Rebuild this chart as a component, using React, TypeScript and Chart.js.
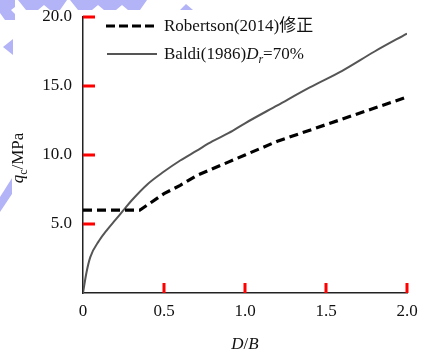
import React, { useEffect, useRef } from "react";
import { Chart, registerables } from "chart.js";

// Data
const baldiX = [0, 0.02, 0.045, 0.1, 0.15, 0.2, 0.25, 0.3, 0.4, 0.5, 0.6, 0.7, 0.8, 0.9, 1.0, 1.2, 1.4, 1.6, 1.8, 2.0];
const baldiY = [0, 1.4, 2.6, 3.8, 4.6, 5.3, 6.0, 6.7, 7.9, 8.8, 9.6, 10.3, 11.0, 11.6, 12.3, 13.6, 14.9, 16.1, 17.5, 18.8];
const robX = [0, 0.35, 0.4, 0.5, 0.6, 0.7, 0.8, 0.9, 1.0, 1.2, 1.4, 1.6, 1.8, 2.0];
const robY = [6.0, 6.0, 6.4, 7.2, 7.8, 8.5, 9.0, 9.5, 10.0, 11.0, 11.8, 12.6, 13.4, 14.2];
const xTicks = [0.5, 1.0, 1.5, 2.0];
const yTicks = [5, 10, 15, 20];
const robLabel = "Robertson(2014)修正";
const baldiLabel = "Baldi(1986)";

const SERIF = '"Liberation Serif", "Times New Roman", "Noto Sans CJK SC", serif';

const innerTicks = {
  id: "innerTicks",
  afterDraw(chart: any) {
    const ctx = chart.ctx;
    const area = chart.chartArea;
    const sx = chart.scales["x"];
    const sy = chart.scales["y"];
    ctx.save();
    ctx.strokeStyle = "#ff0000";
    ctx.lineWidth = 3;
    ctx.setLineDash([]);
    ctx.beginPath();
    yTicks.forEach((v) => {
      const py = Math.round(sy.getPixelForValue(v));
      ctx.moveTo(area.left, py);
      ctx.lineTo(area.left + 12, py);
    });
    xTicks.forEach((v) => {
      const px = Math.round(sx.getPixelForValue(v));
      ctx.moveTo(px, area.bottom);
      ctx.lineTo(px, area.bottom - 10);
    });
    ctx.stroke();
    ctx.restore();
  },
};

Chart.register(...registerables, innerTicks);

export default function App() {
  const ref = useRef<HTMLCanvasElement>(null);
  useEffect(() => {
    document.body.style.margin = "0";
    const chart = new Chart(ref.current!, {
      type: "line",
      data: {
        datasets: [
          {
            label: robLabel,
            data: robX.map((x, i) => ({ x, y: robY[i] })),
            borderColor: "#000",
            borderWidth: 3.2,
            borderDash: [9, 5],
            pointRadius: 0,
            tension: 0,
            fill: false,
          },
          {
            label: baldiLabel,
            data: baldiX.map((x, i) => ({ x, y: baldiY[i] })),
            borderColor: "#555",
            borderWidth: 2,
            pointRadius: 0,
            cubicInterpolationMode: "monotone",
            fill: false,
          },
        ],
      },
      options: {
        animation: false,
        responsive: false,
        devicePixelRatio: 1,
        layout: { padding: { top: 17, right: 23, left: 0, bottom: 0 } },
        plugins: { legend: { display: false }, tooltip: { enabled: false } },
        scales: {
          x: {
            type: "linear",
            min: 0,
            max: 2,
            grid: { display: false, drawTicks: false },
            border: { display: true, color: "#222", width: 1.5 },
            ticks: {
              stepSize: 0.5,
              padding: 8,
              color: "#111",
              font: { family: SERIF, size: 17 },
              callback: (v: any) => (Number(v) === 0 ? "0" : Number(v).toFixed(1)),
            },
            afterFit: (s: any) => {
              s.height = 61;
            },
          },
          y: {
            min: 0,
            max: 20,
            grid: { display: false, drawTicks: false },
            border: { display: true, color: "#222", width: 1.5 },
            ticks: {
              stepSize: 5,
              padding: 11,
              color: "#111",
              font: { family: SERIF, size: 17 },
              callback: (v: any) => (Number(v) === 0 ? "" : Number(v).toFixed(1)),
            },
            afterFit: (s: any) => {
              s.width = 83;
              s.paddingTop = 0;
              s.paddingBottom = 0;
            },
          },
        },
      },
    });
    return () => chart.destroy();
  }, []);

  const wm = "#b3b3f7";
  return (
    <div style={{ position: "fixed", left: 0, top: 0, width: 430, height: 354, background: "#fff", fontFamily: SERIF }}>
      <svg width={430} height={354} style={{ position: "absolute", left: 0, top: 0 }}>
        <polygon points="0,0 15,0 15,7 11,10 15,14 15,20 5,20 0,13" fill={wm} />
        <polygon points="18,0 67,0 60,10 50,10 44,5 38,10 26,10" fill={wm} />
        <polygon points="70,0 147,0 140,10 128,10 122,5 116,10 104,10 98,5 92,10 78,10" fill={wm} />
        <polygon points="180,10 186,4 193,10" fill={wm} />
        <polygon points="3,47 13,39 13,55" fill={wm} />
        <polygon points="0,197 12,178 12,194 0,212" fill={wm} />
      </svg>
      <canvas ref={ref} width={430} height={354} style={{ position: "absolute", left: 0, top: 0 }} />
      <svg width={430} height={354} style={{ position: "absolute", left: 0, top: 0, pointerEvents: "none" }}>
        <line x1={106} y1={26} x2={157} y2={26} stroke="#000" strokeWidth={3.2} strokeDasharray="9 4" />
        <line x1={107} y1={54} x2={157} y2={54} stroke="#555" strokeWidth={2} />
      </svg>
      <div style={{ position: "absolute", left: 164, top: 16, fontSize: 17, lineHeight: "20px", color: "#111", whiteSpace: "nowrap" }}>
        {robLabel}
      </div>
      <div style={{ position: "absolute", left: 164, top: 44, fontSize: 17, lineHeight: "20px", color: "#111", whiteSpace: "nowrap" }}>
        {baldiLabel}
        <i>D</i>
        <sub style={{ fontSize: 12, fontStyle: "italic", verticalAlign: "-4px" }}>r</sub>=70%
      </div>
      <div
        style={{
          position: "absolute",
          left: 19,
          top: 158,
          transform: "translate(-50%, -50%) rotate(-90deg)",
          fontSize: 17,
          whiteSpace: "nowrap",
          color: "#111",
        }}
      >
        <i>q</i>
        <sub style={{ fontSize: 12, verticalAlign: "-4px" }}>c</sub>/MPa
      </div>
      <div
        style={{
          position: "absolute",
          left: 245,
          top: 344,
          transform: "translate(-50%, -50%)",
          fontSize: 17,
          whiteSpace: "nowrap",
          color: "#111",
        }}
      >
        <i>D</i>/<i>B</i>
      </div>
    </div>
  );
}
